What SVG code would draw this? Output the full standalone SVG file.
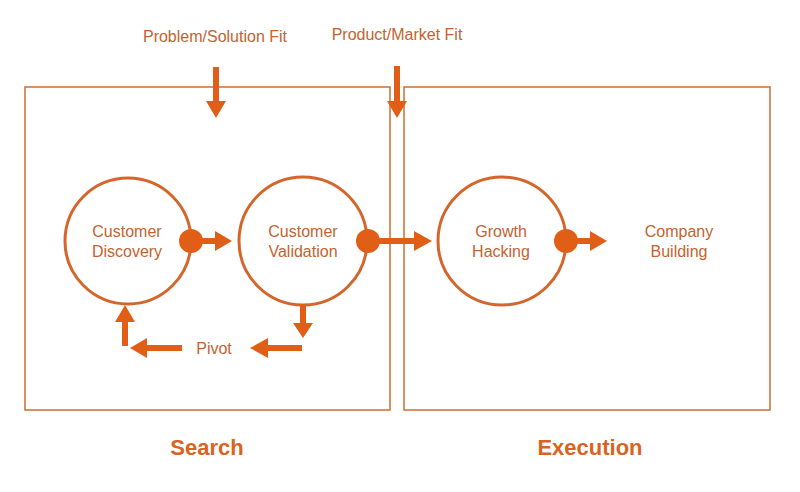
<svg xmlns="http://www.w3.org/2000/svg" width="800" height="492" viewBox="0 0 800 492">
<defs>
<style>
.box{fill:none;stroke:#d0773f;stroke-width:1.6}
.node{fill:#fff;stroke:#d4662c;stroke-width:3}
.dot{fill:#e15e17}
.arr{fill:#e15e17}
.t{font-family:"Liberation Sans",Arial,sans-serif;font-size:16px;fill:#c4632f;text-anchor:middle}
.h{font-family:"Liberation Sans",Arial,sans-serif;font-size:22px;font-weight:bold;fill:#d9641f;text-anchor:middle}
</style>
</defs>
<rect width="800" height="492" fill="#fff"/>
<g id="search-box"><rect class="box" x="25" y="87" width="365" height="323"/></g>
<g id="execution-box"><rect class="box" x="404" y="87" width="366" height="323"/></g>
<g id="customer-discovery">
<circle class="node" cx="128" cy="241" r="63"/>
<text class="t" x="127" y="237">Customer</text>
<text class="t" x="127" y="257">Discovery</text>
</g>
<g id="customer-validation">
<circle class="node" cx="303" cy="241" r="64"/>
<text class="t" x="303" y="237">Customer</text>
<text class="t" x="303" y="257">Validation</text>
</g>
<g id="growth-hacking">
<circle class="node" cx="502" cy="241" r="64"/>
<text class="t" x="501" y="237">Growth</text>
<text class="t" x="501" y="257">Hacking</text>
</g>
<g id="company-building">
<text class="t" x="679" y="237">Company</text>
<text class="t" x="679" y="257">Building</text>
</g>
<g id="pivot"><text class="t" x="214" y="354">Pivot</text></g>
<g id="problem-solution-fit"><text class="t" x="215" y="42">Problem/Solution Fit</text></g>
<g id="product-market-fit"><text class="t" x="397" y="40">Product/Market Fit</text></g>
<g id="search"><text class="h" x="207" y="455">Search</text></g>
<g id="execution"><text class="h" x="590" y="455">Execution</text></g>
<g id="connectors">
<circle class="dot" cx="191" cy="241" r="12"/>
<polygon class="arr" points="195,238 215,238 215,231 232,241 215,251 215,244 195,244"/>
<circle class="dot" cx="368" cy="241" r="12"/>
<polygon class="arr" points="372,238 414,238 414,231 432,241 414,251 414,244 372,244"/>
<circle class="dot" cx="566" cy="241" r="12"/>
<polygon class="arr" points="570,238 590,238 590,231 607,241 590,251 590,244 570,244"/>
<polygon class="arr" points="300,305 306,305 306,323 313,323 303,338 293,323 300,323"/>
<polygon class="arr" points="302,345 302,351 268,351 268,358 250,348 268,338 268,345"/>
<polygon class="arr" points="182,345 182,351 147,351 147,358 130,348 147,338 147,345"/>
<polygon class="arr" points="122,346 128,346 128,322 135,322 125,305 115,322 122,322"/>
<polygon class="arr" points="213,67 219,67 219,101 226,101 216,118 206,101 213,101"/>
<polygon class="arr" points="394,66 400,66 400,101 407,101 397,118 387,101 394,101"/>
</g>
</svg>
